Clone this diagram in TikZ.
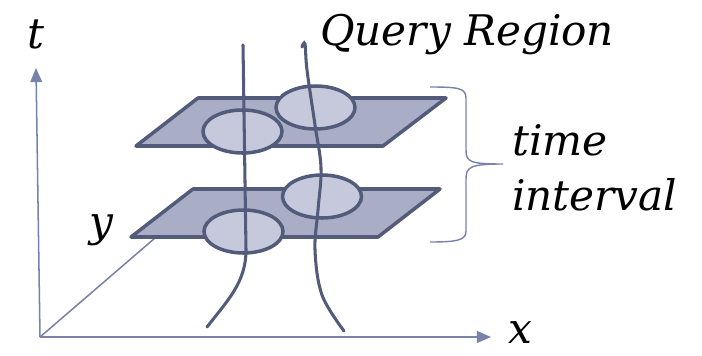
\documentclass[tikz,border=0pt]{standalone}
\usepackage{fontspec}
\usepackage{xcolor}
\usetikzlibrary{arrows.meta}
\newfontfamily\labfont{DejaVu Serif}

\definecolor{planefill}{HTML}{A9AEC6}
\definecolor{planeline}{HTML}{535B7B}
\definecolor{spotfill}{HTML}{C5C9DB}
\definecolor{axisline}{HTML}{7882AA}

\begin{document}
\begin{tikzpicture}[x=0.03cm, y=-0.03cm,
    plane/.style={draw=planeline, fill=planefill, line width=3pt, line join=round},
    spot/.style={draw=planeline, fill=spotfill, line width=3pt},
    track/.style={draw=planeline, line width=2.6pt, line cap=round},
    axis/.style={draw=axisline, line width=1.3pt, -{Triangle[length=12pt, width=10pt]}},
    brace/.style={draw=axisline, line width=1.2pt},
    lab/.style={anchor=base west, inner sep=0pt, font=\labfont\itshape\fontsize{36}{42}\selectfont}
]
\useasboundingbox (0,0) rectangle (702,355);

% axes
\coordinate (o) at (40,337);
\coordinate (ttip) at (36,68);
\coordinate (xtip) at (491,337);
\coordinate (yend) at (155,238);
\draw[axis] (o) -- (ttip);
\draw[axis] (o) -- (xtip);
\draw[axisline, line width=1.3pt] (o) -- (yend);

% time slices
\draw[plane] (193,189) -- (440,189) -- (378,237) -- (131,237) -- cycle;
\draw[plane] (198,98) -- (446,98) -- (383,146) -- (136,146) -- cycle;

% query region at each slice
\draw[spot] (322,196.5) ellipse (39.5 and 21.5);
\draw[spot] (243.5,231.5) ellipse (39.5 and 21.5);
\draw[spot] (315.5,107.5) ellipse (39.5 and 21.5);
\draw[spot] (242.5,131.5) ellipse (39.5 and 21.5);

% trajectories
\draw[track] (243,45) -- (246,250) .. controls (246,282) and (228,300) .. (207,327);
\draw[track] plot[smooth, tension=0.6] coordinates {(302,47) (305,44) (307,70) (315,125) (321,168) (318,210) (315,250) (322,295) (344,331)};

% bracket
\draw[brace] (430,87) .. controls (458,87) and (466,88) .. (466,98) -- (466,150)
  .. controls (466,162) and (470,164) .. (503,164)
  .. controls (470,164) and (466,167) .. (466,179) -- (466,231)
  .. controls (466,240) and (458,242) .. (430,242);

% labels
\node[lab] (tlab) at (27,48) {t};
\node[lab] (ylab) at (89,236) {y};
\node[lab] (xlab) at (508,343) {x};
\node[lab] (qlab) at (320,45) {Query Region};
\node[lab] (time) at (512,155) {time};
\node[lab] (intv) at (512,210) {interval};
\end{tikzpicture}
\end{document}
